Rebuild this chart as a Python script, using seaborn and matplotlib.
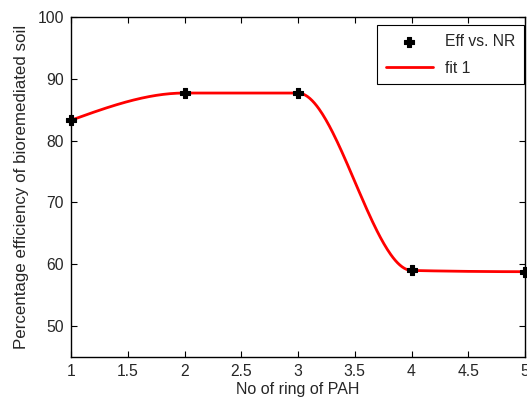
import numpy as np
import pandas as pd
import matplotlib
matplotlib.use("Agg")
import matplotlib.pyplot as plt
import seaborn as sns

rings = [1, 2, 3, 4, 5]
efficiency = [83.3, 87.7, 87.7, 59.0, 58.8]
xticks = [1, 1.5, 2, 2.5, 3, 3.5, 4, 4.5, 5]
yticks = [50, 60, 70, 80, 90, 100]


def pchip(x, y, xq):
    x = np.asarray(x, float)
    y = np.asarray(y, float)
    h = np.diff(x)
    d = np.diff(y) / h
    n = len(x)
    m = np.zeros(n)
    for k in range(1, n - 1):
        if d[k - 1] * d[k] > 0:
            w1 = 2 * h[k] + h[k - 1]
            w2 = h[k] + 2 * h[k - 1]
            m[k] = (w1 + w2) / (w1 / d[k - 1] + w2 / d[k])
        else:
            m[k] = 0.0

    def endslope(h0, h1, d0, d1):
        s = ((2 * h0 + h1) * d0 - h0 * d1) / (h0 + h1)
        if np.sign(s) != np.sign(d0):
            s = 0.0
        elif np.sign(d0) != np.sign(d1) and abs(s) > abs(3 * d0):
            s = 3 * d0
        return s

    m[0] = endslope(h[0], h[1], d[0], d[1])
    m[-1] = endslope(h[-1], h[-2], d[-1], d[-2])
    idx = np.clip(np.searchsorted(x, xq) - 1, 0, n - 2)
    t = (xq - x[idx]) / h[idx]
    h00 = 2 * t**3 - 3 * t**2 + 1
    h10 = t**3 - 2 * t**2 + t
    h01 = -2 * t**3 + 3 * t**2
    h11 = t**3 - t**2
    return h00 * y[idx] + h10 * h[idx] * m[idx] + h01 * y[idx + 1] + h11 * h[idx] * m[idx + 1]


sns.set_theme(style="white")
plt.rcParams["font.family"] = ["Liberation Sans", "DejaVu Sans"]

fig = plt.figure(figsize=(5.27, 4.05), dpi=100)
ax = fig.add_axes([71 / 527, 48 / 405, 454 / 527, 340 / 405])

df = pd.DataFrame({"x": rings, "y": efficiency})
xf = np.linspace(1, 5, 400)
fit = pd.DataFrame({"x": xf, "y": pchip(rings, efficiency, xf)})

sns.lineplot(data=fit, x="x", y="y", ax=ax, color="red", linewidth=2,
             label="fit 1", zorder=2)
sns.scatterplot(data=df, x="x", y="y", ax=ax, marker="P", s=42,
                color="black", edgecolor="black", linewidth=0.8,
                label="Eff vs. NR", zorder=3, clip_on=False)

ax.set_xlim(1, 5)
ax.set_ylim(45, 100)
ax.set_xticks(xticks)
ax.set_xticklabels([f"{t:g}" for t in xticks])
ax.set_yticks(yticks)
ax.set_xlabel("No of ring of PAH", fontsize=11.5, labelpad=2)
ax.set_ylabel("Percentage efficiency of bioremediated soil", fontsize=12.2, labelpad=6)
ax.tick_params(axis="both", direction="in", length=4, width=0.8, labelsize=11.3,
               top=True, right=True, bottom=True, left=True, color="black", pad=5)
for s in ax.spines.values():
    s.set_color("black")
    s.set_linewidth(1.0)

h, l = ax.get_legend_handles_labels()
order = [l.index("Eff vs. NR"), l.index("fit 1")]
leg = ax.legend([h[i] for i in order], [l[i] for i in order],
                loc="upper right", bbox_to_anchor=(0.998, 0.976), borderaxespad=0,
                fontsize=11.3,
                frameon=True, fancybox=False, edgecolor="black", framealpha=1,
                borderpad=0.55, handlelength=3.0, labelspacing=0.75)
leg.get_frame().set_linewidth(0.8)

fig.savefig("out.png", dpi=100)
